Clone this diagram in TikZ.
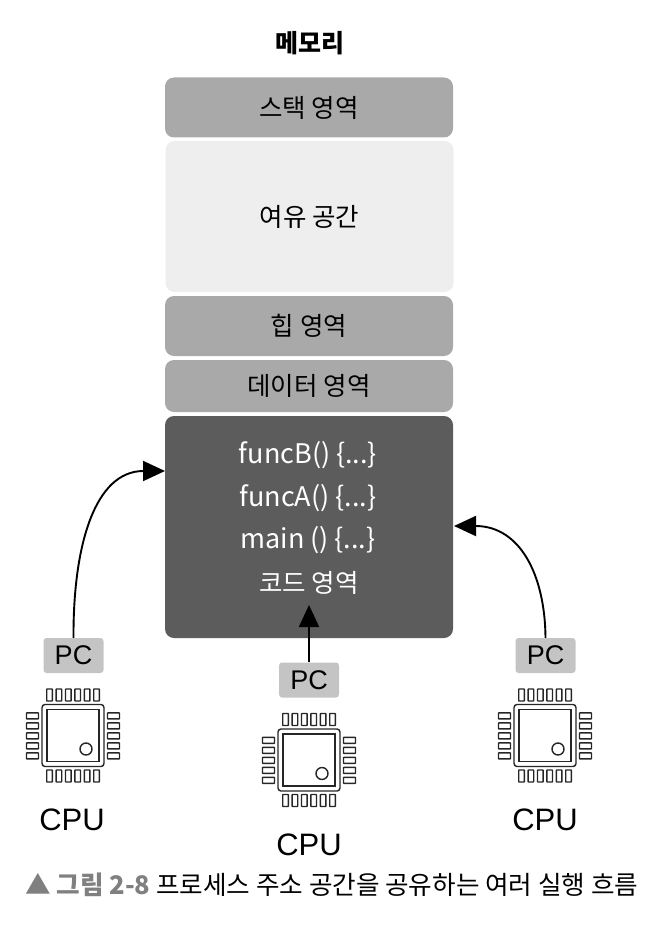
\documentclass[tikz,border=0pt]{standalone}
\usepackage{fontspec}
\setmainfont{Noto Sans CJK KR}
\newfontfamily\latinf{Liberation Sans}
\usetikzlibrary{arrows.meta}
\definecolor{midgray}{HTML}{A9A9A9}
\definecolor{palegray}{HTML}{EEEEEE}
\definecolor{darkgray2}{HTML}{5C5C5C}
\definecolor{pcgray}{HTML}{C4C4C4}
\definecolor{capgray}{HTML}{808080}
\tikzset{
  memblock/.style={rounded corners=9pt,minimum width=288pt,inner sep=0pt,fill=midgray,font=\fontsize{25.5}{28}\selectfont,text=black},
  pcbox/.style={rounded corners=3pt,fill=pcgray,minimum width=60pt,minimum height=35pt,inner sep=0pt,font=\latinf\fontsize{27}{30}\selectfont},
  cpulabel/.style={inner sep=0pt,font=\latinf\fontsize{31}{32}\selectfont},
  flow/.style={line width=1.9pt,-{Triangle[length=22pt,width=20pt]}},
  chipline/.style={draw=black!85,line width=1.4pt},
  codetext/.style={inner sep=0pt,text=white,font=\fontsize{27}{30}\selectfont},
}
% #1 name, #2 x, #3 y  (chip centre)
\newcommand{\chipicon}[3]{%
  \begin{scope}[shift={(#2,#3)}]
    \node[chipline,rounded corners=3pt,minimum size=62pt,inner sep=0pt] (#1) at (0,0) {};
    \node[chipline,minimum size=52pt,inner sep=0pt] (#1in) at (0,0) {};
    \node[chipline,circle,minimum size=12pt,inner sep=0pt] (#1dot) at (13,13.5) {};
    \foreach \k in {0,...,5}{
      \pgfmathsetmacro{\px}{-23.5+9.4*\k}
      \draw[chipline,rounded corners=0.5pt] (\px-2.8,-46.5) rectangle (\px+2.8,-34.5);
      \draw[chipline,rounded corners=0.5pt] (\px-2.8,34.5) rectangle (\px+2.8,46.5);
    }
    \foreach \k in {0,...,4}{
      \pgfmathsetmacro{\py}{-20+10*\k+0.3}
      \draw[chipline,rounded corners=0.5pt] (-46.5,\py-3) rectangle (-34.5,\py+3);
      \draw[chipline,rounded corners=0.5pt] (34.5,\py-3) rectangle (46.5,\py+3);
    }
  \end{scope}}
\begin{document}
\begin{tikzpicture}[x=1pt,y=-1pt]
\useasboundingbox (0,0) rectangle (665,933);
\node[inner sep=0pt,font=\fontsize{25}{28}\selectfont\bfseries] (title) at (310,43) {메모리};
\node[memblock,minimum height=60pt] (stack) at (309,107.5) {스택 영역};
\node[memblock,fill=palegray,minimum height=151pt] (free) at (309.5,216.5) {여유 공간};
\node[memblock,minimum height=60pt] (heap) at (309,326) {힙 영역};
\node[memblock,minimum height=52pt] (data) at (309,386) {데이터 영역};
\node[memblock,fill=darkgray2,minimum height=222pt] (code) at (309,527) {};
\node[codetext] (fb) at (308,455) {funcB() \{...\}};
\node[codetext] (fa) at (308,498) {funcA() \{...\}};
\node[codetext] (fm) at (308,540) {main () \{...\}};
\node[codetext,font=\fontsize{25.5}{28}\selectfont] (cl) at (309,583) {코드 영역};
\node[pcbox] (pc1) at (73.5,655.5) {PC};
\node[pcbox] (pc2) at (309,680) {PC};
\node[pcbox] (pc3) at (545.5,655.5) {PC};
\chipicon{c1}{73}{735.5}
\chipicon{c2}{309}{760}
\chipicon{c3}{545}{735.5}
\node[cpulabel] (l1) at (72,820) {CPU};
\node[cpulabel] (l2) at (309,845) {CPU};
\node[cpulabel] (l3) at (545,820) {CPU};
\coordinate (t1) at (165,471);
\coordinate (t2) at (309,605);
\coordinate (t3) at (454,526);
\draw[flow] (pc1.north) .. controls (73,545) and (95,471) .. (t1);
\draw[flow] (pc2.north) -- (t2);
\draw[flow] (pc3.north) .. controls (545,575) and (520,526) .. (t3);
\node[inner sep=0pt,anchor=west,font=\fontsize{25.6}{28}\selectfont] (cap) at (25,885) {\textcolor{capgray}{▲ \textbf{그림 2-8}} 프로세스 주소 공간을 공유하는 여러 실행 흐름};
\end{tikzpicture}
\end{document}
